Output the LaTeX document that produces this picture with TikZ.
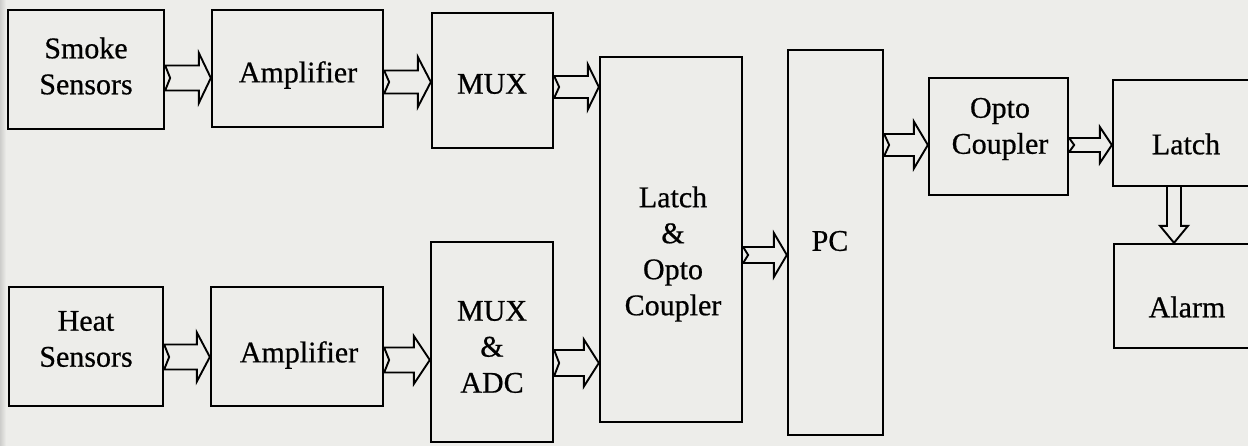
\documentclass[tikz,border=0pt]{standalone}
\usepackage{fontspec}
\setmainfont{Liberation Serif}
\newfontfamily\lblfont{Liberation Serif}[FakeBold=0.6]
\usetikzlibrary{calc,fit}
\definecolor{paper}{RGB}{237,237,234}
\definecolor{scanedge}{RGB}{205,205,203}
\tikzset{
  box/.style={draw=black, line width=2.3pt, inner sep=0pt},
  lbl/.style={align=center, inner sep=0pt, font=\lblfont\fontsize{30}{36}\selectfont},
  blockarr/.style={draw=black, line width=1.9pt, line join=miter}
}
% horizontal notched block arrow: tail node, head node, y, shaft half, head half, head length
\newcommand{\harr}[6]{%
  \draw[blockarr] let \p1=(#1.east), \p2=(#2.west), \p3=(0,#3) in
    (\x1,\y3+#4) -- (\x2-#6,\y3+#4) -- (\x2-#6,\y3+#5) -- (\x2,\y3)
    -- (\x2-#6,\y3-#5) -- (\x2-#6,\y3-#4) -- (\x1,\y3-#4) -- (\x1+5pt,\y3) -- cycle;}
% vertical block arrow: tail node, head node, x, shaft half, head half, head length
\newcommand{\varr}[6]{%
  \draw[blockarr] let \p1=(#1.south), \p2=(#2.north), \p3=(#3,0) in
    (\x3-#4,\y1) -- (\x3-#4,\y2+#6) -- (\x3-#5,\y2+#6) -- (\x3,\y2)
    -- (\x3+#5,\y2+#6) -- (\x3+#4,\y2+#6) -- (\x3+#4,\y1);}
\begin{document}
\begin{tikzpicture}[x=1pt,y=-1pt]
\useasboundingbox (0,0) rectangle (1248,446);
\fill[paper] (0,0) rectangle (1248,446);
\fill[left color=scanedge, right color=paper] (0,0) rectangle (6,446);
% boxes
\node[box, fit={(8,10) (164,129)}] (smoke) {};
\node[box, fit={(212,10) (383,127)}] (amp1) {};
\node[box, fit={(432,13) (553,148)}] (mux1) {};
\node[box, fit={(600,57) (742,422)}] (big) {};
\node[box, fit={(788,50) (883,435)}] (pc) {};
\node[box, fit={(929,78) (1068,195)}] (opto) {};
\node[box, fit={(1113,80) (1260,186)}] (latch) {};
\node[box, fit={(1114,244) (1260,348)}] (alarm) {};
\node[box, fit={(9,287) (163,406)}] (heat) {};
\node[box, fit={(211,287) (383,406)}] (amp2) {};
\node[box, fit={(431,242) (553,442)}] (muxadc) {};
% labels
\node[lbl] (smoket) at (86,66) {Smoke\\Sensors};
\node[lbl] (amp1t) at (298,75) {Amplifier};
\node[lbl] (mux1t) at (492,84) {MUX};
\node[lbl] (bigt) at (673,254) {Latch\\\&\\Opto\\Coupler};
\node[lbl] (pct) at (830,241) {PC};
\node[lbl] (optot) at (1000,129) {Opto\\Coupler};
\node[lbl] (latcht) at (1186,144) {Latch};
\node[lbl] (alarmt) at (1187,307) {Alarm};
\node[lbl] (heatt) at (86,339) {Heat\\Sensors};
\node[lbl] (amp2t) at (299,355) {Amplifier};
\node[lbl] (muxadct) at (492,347) {MUX\\\&\\ADC};
% connectors
\harr{smoke}{amp1}{78}{12.5pt}{25pt}{12pt}
\harr{amp1}{mux1}{82}{11.5pt}{25pt}{13pt}
\harr{mux1}{big}{87}{11pt}{22.5pt}{11pt}
\harr{big}{pc}{255}{8pt}{22pt}{13pt}
\harr{pc}{opto}{145}{11pt}{23.5pt}{14pt}
\harr{opto}{latch}{145}{7pt}{18pt}{12pt}
\harr{heat}{amp2}{357}{12.5pt}{24.5pt}{13pt}
\harr{amp2}{muxadc}{360}{12.5pt}{24pt}{16pt}
\harr{muxadc}{big}{363}{13pt}{23.5pt}{15pt}
\varr{latch}{alarm}{1174}{7pt}{14pt}{17pt}
\end{tikzpicture}
\end{document}
